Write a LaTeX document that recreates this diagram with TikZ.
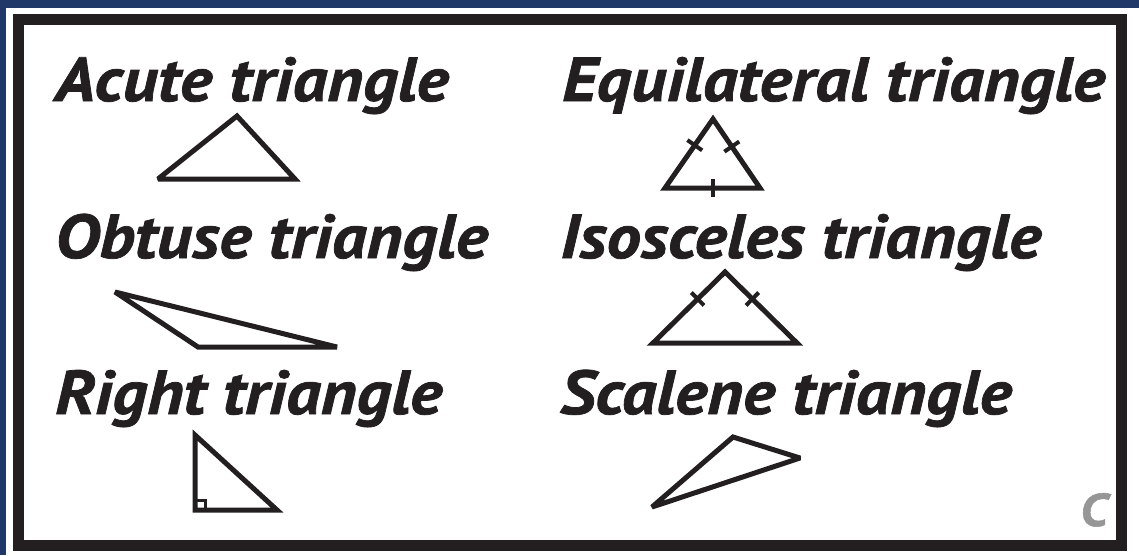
\documentclass[tikz,border=0pt]{standalone}
\usepackage{fontspec}
\setmainfont{PT Sans}
\newfontfamily\titlefont[FakeStretch=1.11,FakeBold=1.2]{PT Sans}
\usetikzlibrary{calc}
\definecolor{navy}{RGB}{31,56,104}
\definecolor{ink}{RGB}{35,31,32}
\definecolor{cgray}{RGB}{150,150,150}
\tikzset{
  title/.style={anchor=base west, inner sep=0pt, text=ink, font=\titlefont\fontsize{62}{62}\selectfont\bfseries\itshape},
  tri/.style={draw=ink, line width=5pt, line join=miter, miter limit=3},
  tick/.style={draw=ink, line width=4pt},
}
\begin{document}
\begin{tikzpicture}[x=1pt,y=-1pt]
\useasboundingbox (0,0) rectangle (1139,555);
\fill[navy] (0,0) rectangle (1139,555);
\fill[white] (6,8) rectangle (1139,555);
\draw[ink, line width=11pt] (18.5,19.5) rectangle (1121.5,545);
% titles
\node[title] (acute) at (55,101) {Acute triangle};
\node[title] (equi) at (562,101) {Equilateral triangle};
\node[title] (obtuse) at (55,258) {Obtuse triangle};
\node[title] (isos) at (560,258) {Isosceles triangle};
\node[title] (right) at (55,414) {Right triangle};
\node[title] (scal) at (560,414) {Scalene triangle};
\node[anchor=base west, inner sep=0pt, text=cgray, font=\titlefont\fontsize{46}{46}\selectfont\bfseries\itshape] (c) at (1080,526) {C};
% acute
\draw[tri] (158,179) -- (237,116) -- (295,179) -- cycle;
% equilateral
\coordinate (e1) at (665,188);
\coordinate (e2) at (713,119);
\coordinate (e3) at (760,188);
\draw[tri] (e1) -- (e2) -- (e3) -- cycle;
\coordinate (et1) at ($(e1)!0.62!(e2)$);
\coordinate (et2) at ($(e3)!0.6!(e2)$);
\coordinate (et3) at ($(e1)!0.5!(e3)$);
\draw[tick] ($(et1)!9pt!90:(e2)$) -- ($(et1)!9pt!-90:(e2)$);
\draw[tick] ($(et2)!9pt!90:(e2)$) -- ($(et2)!9pt!-90:(e2)$);
\draw[tick] ($(et3)!9pt!90:(e3)$) -- ($(et3)!9pt!-90:(e3)$);
% obtuse
\draw[tri] (115,292) -- (198,347) -- (337,347) -- cycle;
% isosceles
\coordinate (i1) at (653,343);
\coordinate (i2) at (725,272);
\coordinate (i3) at (797,343);
\draw[tri] (i1) -- (i2) -- (i3) -- cycle;
\coordinate (it1) at ($(i1)!0.62!(i2)$);
\coordinate (it2) at ($(i3)!0.62!(i2)$);
\draw[tick] ($(it1)!9pt!90:(i2)$) -- ($(it1)!9pt!-90:(i2)$);
\draw[tick] ($(it2)!9pt!90:(i2)$) -- ($(it2)!9pt!-90:(i2)$);
% right
\draw[tri] (195,435) -- (195,510) -- (277,510) -- cycle;
\draw[draw=ink, line width=3pt] (195,500) -- (205,500) -- (205,510);
% scalene
\draw[tri] (733,437) -- (800,458) -- (652,507) -- cycle;
\end{tikzpicture}
\end{document}
